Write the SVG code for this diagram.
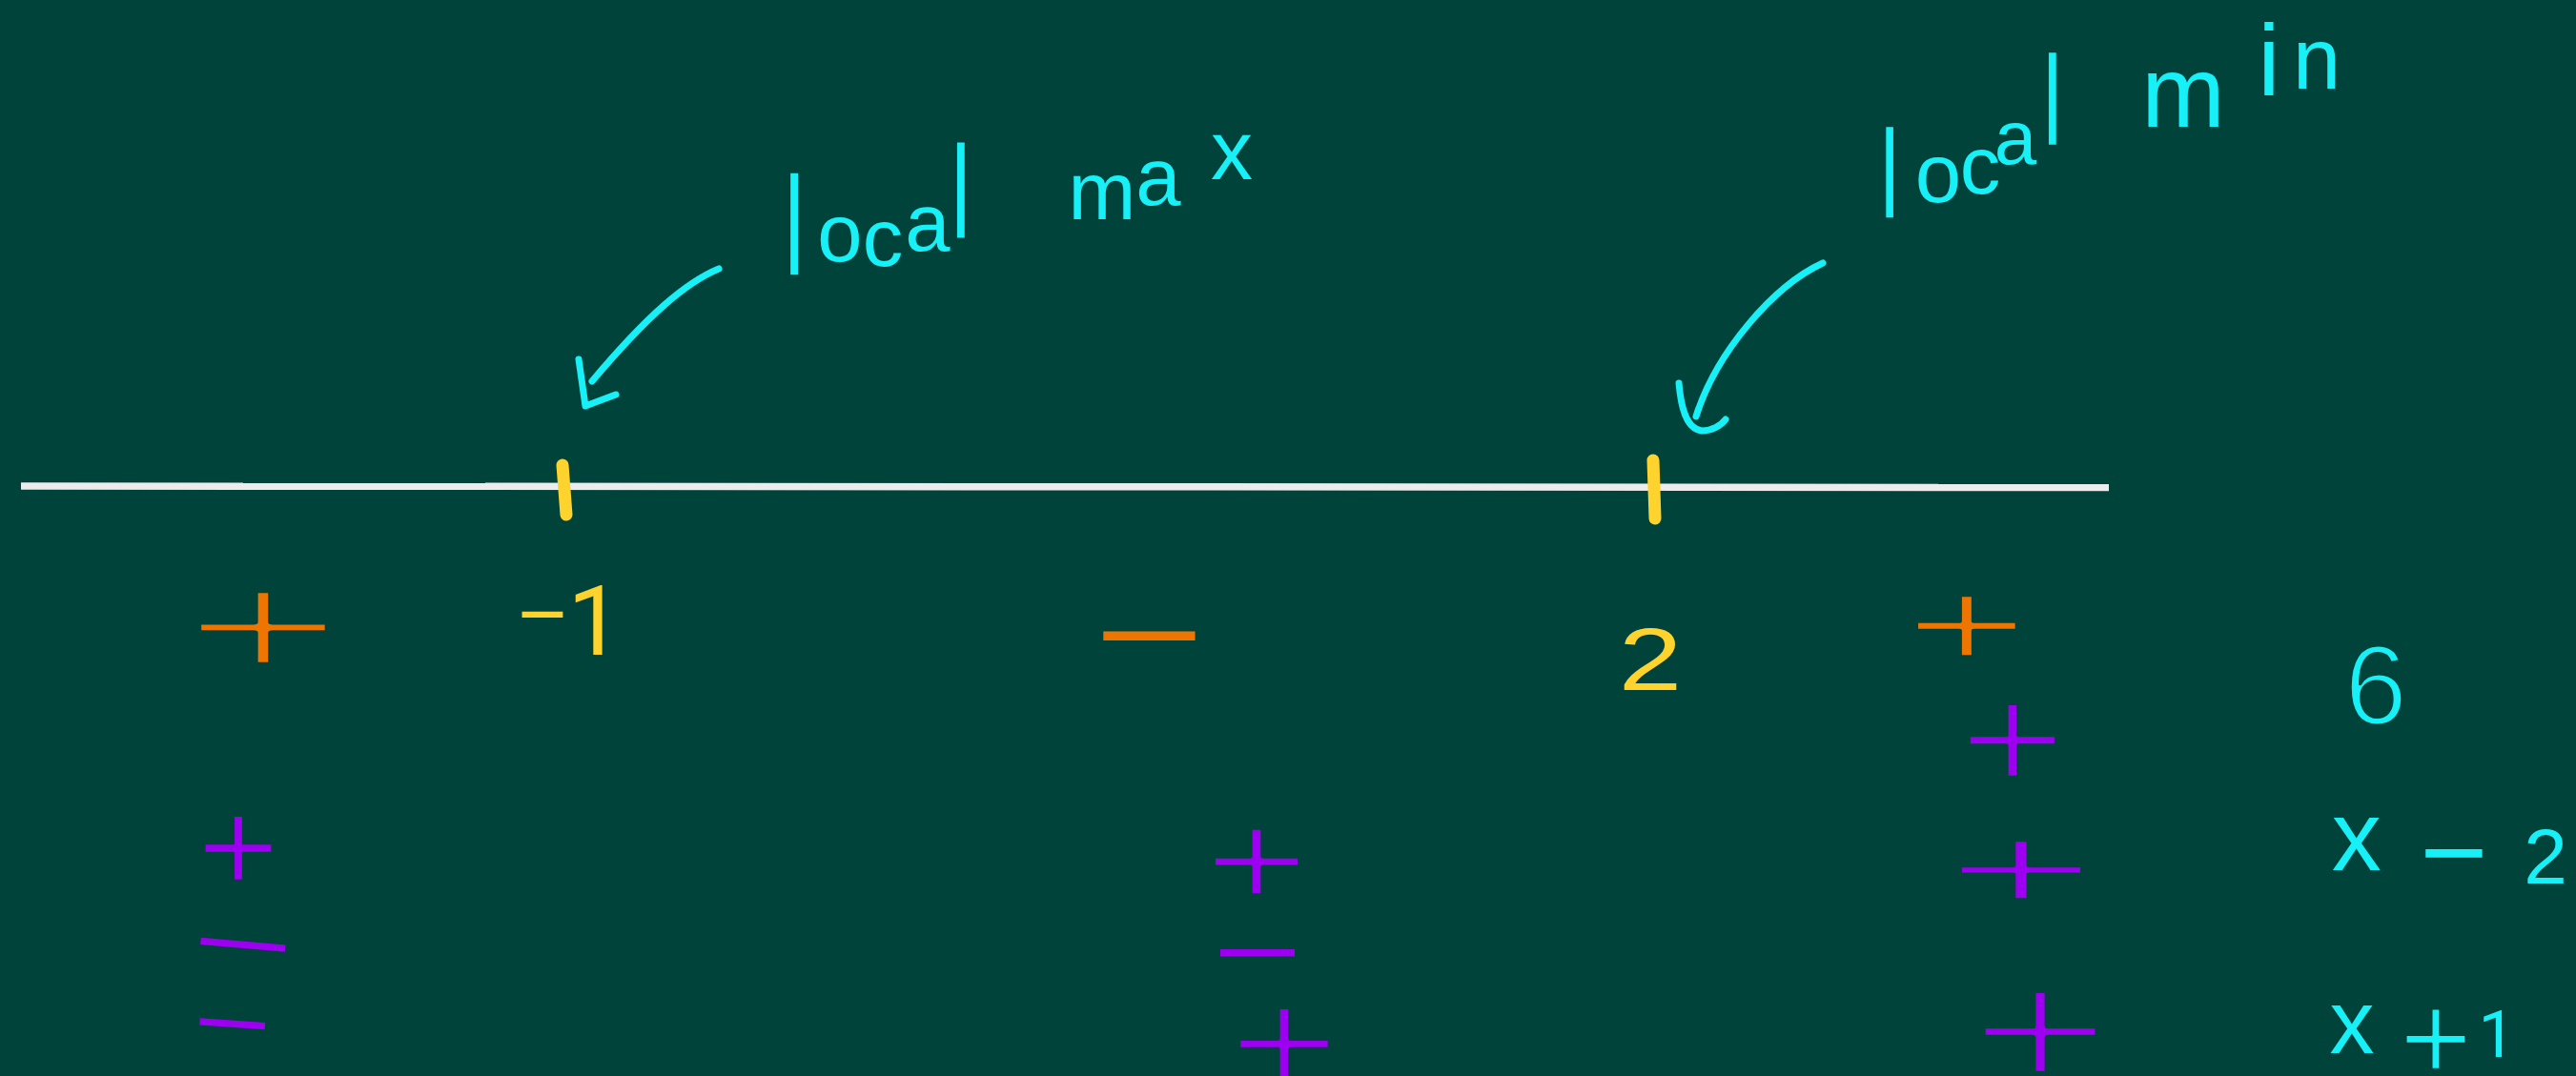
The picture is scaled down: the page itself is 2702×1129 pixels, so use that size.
<svg xmlns="http://www.w3.org/2000/svg" width="2702" height="1129" viewBox="0 0 2702 1129">
<style>
text{font-family:"Liberation Sans",Arial,sans-serif;text-anchor:middle}
.one{font-family:Roboto,"Liberation Sans",sans-serif}
.er{stroke:#00433a;stroke-linejoin:round}
.cy{fill:#17f0f7}
.or{fill:#ee7600}
.ye{fill:#ffd32e}
.pu{fill:#9d00f0}
.axis{stroke:#ececec;stroke-width:7.5;fill:none}
.tick{stroke:#ffd32e;stroke-width:13;stroke-linecap:round;fill:none}
.arrow{stroke:#17f0f7;stroke-width:7;fill:none;stroke-linecap:round;stroke-linejoin:round}
</style>
<rect width="2702" height="1129" fill="#00433a"/>
<g id="number-line">
<path class="axis" d="M22 510 L2212 511.5"/>
<path class="tick" d="M590 488 L594 540"/>
<path class="tick" d="M1734 483 L1736 544"/>
</g>
<g id="label-local-max">
<text class="cy"><tspan class="er" x="833" y="291" font-size="154" stroke-width="5.5">l</tspan><tspan x="881" y="274" font-size="85">o</tspan><tspan x="926" y="279" font-size="85">c</tspan><tspan x="973" y="263" font-size="85">a</tspan><tspan class="er" x="1010" y="252" font-size="145" stroke-width="5">l</tspan> <tspan x="1156" y="230" font-size="85">m</tspan><tspan x="1215" y="215" font-size="85">a</tspan><tspan x="1292" y="188" font-size="88">x</tspan></text>
</g>
<g id="label-local-min">
<text class="cy"><tspan class="er" x="1982" y="231" font-size="138" stroke-width="4.5">l</tspan><tspan x="2033" y="212" font-size="87">o</tspan><tspan x="2077" y="203" font-size="85">c</tspan><tspan x="2114" y="172" font-size="80">a</tspan><tspan class="er" x="2155" y="154" font-size="140" stroke-width="4.5">l</tspan> <tspan x="2290" y="133" font-size="105">m</tspan><tspan x="2380" y="100" font-size="105">i</tspan><tspan x="2430" y="93" font-size="90">n</tspan></text>
</g>
<g id="connectors">
<path class="arrow" d="M754 282 C720 296 680 330 621 400"/>
<path class="arrow" d="M607 377 L614 426 L646 414"/>
<path class="arrow" d="M1912 276 C1860 300 1800 370 1779 437"/>
<path class="arrow" d="M1761 402 C1763 425 1768 450 1785 452 C1795 452 1805 447 1810 440"/>
</g>
<g id="critical-values">
<text class="ye"><tspan x="569" y="674" font-size="88">−</tspan><tspan class="one" x="624" y="687" font-size="102">1</tspan></text>
<text class="ye" transform="translate(1731 724) scale(1.3 1)" x="0" y="0" font-size="92">2</text>
</g>
<g id="sign-fprime">
<text class="or er" transform="translate(276 655) scale(1.342 0.745)" x="0" y="75.8" font-size="214" stroke-width="7.5">+</text>
<text class="or" transform="translate(1205 664) scale(1.5 1)" x="0" y="46.7" font-size="132">−</text>
<text class="or er" transform="translate(2063 654) scale(1.295 0.772)" x="0" y="60.5" font-size="171" stroke-width="4.6">+</text>
</g>
<g id="sign-factors">
<text class="pu er" transform="translate(250 887) scale(1.03 0.97)" x="0" y="50.6" font-size="143" stroke-width="2.7">+</text>
<text class="pu" transform="translate(255 989) rotate(5) scale(1.78 1)" x="0" y="36.5" font-size="103">−</text>
<text class="pu" transform="translate(244 1072) rotate(4) scale(1.37 1)" x="0" y="36.5" font-size="103">−</text>
<text class="pu er" transform="translate(1318 902) scale(1.146 0.873)" x="0" y="57.7" font-size="163" stroke-width="4.1">+</text>
<text class="pu" transform="translate(1319 997) scale(1.56 1)" x="0" y="36.5" font-size="103">−</text>
<text class="pu er" transform="translate(1347 1092) scale(1.128 0.887)" x="0" y="62.7" font-size="177" stroke-width="5">+</text>
<text class="pu er" transform="translate(2111 774) scale(1.1 0.909)" x="0" y="62" font-size="175" stroke-width="4.9">+</text>
<text class="pu er" transform="translate(2120 910) scale(1.457 0.686)" x="0" y="66.2" font-size="187" stroke-width="5.7">+</text>
<text class="pu er" transform="translate(2140 1079) scale(1.19 0.84)" x="0" y="75.8" font-size="214" stroke-width="7.6">+</text>
</g>
<g id="factor-labels">
<text class="cy er" x="2492" y="760" font-size="118" stroke-width="3">6</text>
<text class="cy"><tspan x="2474" y="913" font-size="104">x</tspan> <tspan x="2576" y="936" font-size="122">−</tspan> <tspan x="2670" y="927" font-size="82">2</tspan></text>
<text class="cy"><tspan x="2467" y="1105" font-size="94">x</tspan><tspan class="er" x="2555" y="1133" font-size="130" stroke-width="2.5">+</tspan><tspan class="one" x="2619" y="1109" font-size="69">1</tspan></text>
</g>
</svg>
